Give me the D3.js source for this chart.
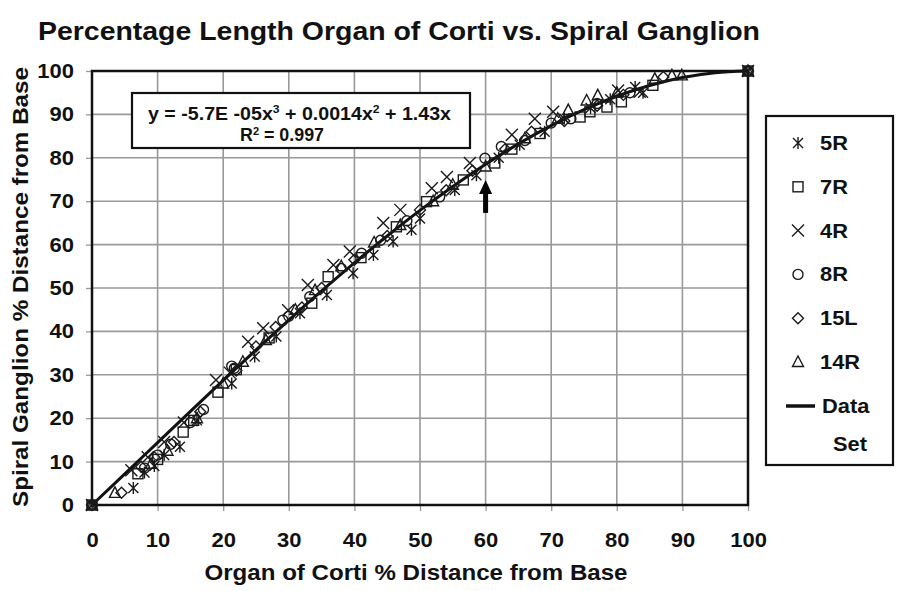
<!DOCTYPE html>
<html><head><meta charset="utf-8">
<script src="https://cdn.jsdelivr.net/npm/d3@7"></script>
<style>body{margin:0;background:#fff}svg{display:block}text{font-family:Arial,"Liberation Sans",sans-serif;font-weight:bold;fill:#111}</style>
</head><body><svg id="c" width="902" height="591"></svg>
<script>
const title = "Percentage Length Organ of Corti vs. Spiral Ganglion";
const xLabel = "Organ of Corti % Distance from Base";
const yLabel = "Spiral Ganglion % Distance from Base";
const ticks = [0,10,20,30,40,50,60,70,80,90,100];
const seriesNames = ["5R","7R","4R","8R","15L","14R"];
const symbols = ["asterisk","square","cross","circle","diamond","triangle"];
const s5R = [[0,0],[6.3,3.9],[8,7.5],[9.5,9],[11,11.5],[13.4,13.4],[16,19.5],[21.3,28],[24.8,34.2],[28.1,38.8],[31.7,44.2],[35.8,48.4],[39.8,53.4],[42.9,57.6],[45.9,60.7],[48.7,63.4],[50,66],[55.3,72.6],[58.6,76],[62,80],[65.2,83],[69,86],[72,89],[76,91.5],[79,93.5],[82.8,96.3],[84,95],[100,100]];
const s7R = [[0,0],[7,7.2],[10,10.5],[13.9,16.8],[15.5,19.5],[19.2,26],[22,31.2],[27,38.5],[33.5,46.5],[36,52.6],[41,57],[46.4,64.1],[51,69.9],[56.6,74.9],[61.4,78.8],[64,82],[68.3,85.6],[74.4,89.4],[75.9,90.6],[78.5,91.7],[80.7,92.9],[85.5,96.7],[100,100]];
const s4R = [[0,0],[6,8],[8.5,11],[11,14.5],[14,19],[18.9,28.8],[21,30.5],[23.8,37.6],[26.1,40.7],[29.9,44.9],[32.9,50.7],[36.8,55.3],[39.3,58.4],[44.4,65],[47,68],[51.8,73],[54.1,75.6],[57.6,78.8],[64,85.3],[67.5,89],[70.3,90.6],[80.2,95.5],[83.5,95.2],[100,100]];
const s8R = [[0,0],[8,8.5],[10,11.5],[12,14],[15,19],[17,22],[21.7,31.5],[21.3,32],[29.1,42.6],[30,43.5],[33.2,48],[38,54.5],[41.1,58],[44,61],[48,65.5],[53,71],[59.9,79.9],[62.4,82.6],[66,84],[70,88],[73,89],[77,92.5],[82,95],[100,100]];
const s15L = [[0,0],[4.5,2.8],[7.5,8.8],[9.5,11],[12.5,14.5],[16.5,21.5],[22,31],[25,36.5],[28,41],[32,45.5],[35,50],[40,56.5],[45,62],[50,68],[54,72.5],[58,77],[63,82],[67,86],[72,88.5],[77,92],[81,94.5],[87.1,98.6],[100,100]];
const s14R = [[0,0],[3.5,2.8],[9,9.5],[11.5,12.5],[16,20],[20,28],[23,33],[26.5,38],[31,45],[34,49.5],[38,55],[43,60.5],[47,64.5],[52,70],[55,73.8],[60,78],[66,84.5],[71,89],[72.6,91],[75.4,93.2],[77.1,94.4],[80,95],[85.8,98.2],[88.4,99],[89.9,99],[100,100]];
const curveX = [0,5,10,15,20,25,30,35,40,45,50,55,60,65,70,75,80,85,90,95,100];
const curveY = [0,7.18,14.38,21.57,28.7,35.73,42.62,49.32,55.79,61.99,67.88,73.4,78.53,83.21,87.41,91.08,94.18,96.66,98.49,99.6,100];
const arrowPts = [[60,67.3],[60,74.9]];
const eqLine1 = ["y = -5.7E -05x","3"," + 0.0014x","2"," + 1.43x"];
const eqLine2 = ["R","2"," = 0.997"];
const legendLast = ["Data","Set"];

const allSeries = [s5R,s7R,s4R,s8R,s15L,s14R];
const svg = d3.select("#c");
const L=92, R=748, T=71, B=505;
const x = d3.scaleLinear().domain([0,100]).range([L,R]);
const y = d3.scaleLinear().domain([0,100]).range([B,T]);

function stretch(sel,f){sel.each(function(){const w=this.getComputedTextLength();d3.select(this).attr("textLength",w*f).attr("lengthAdjust","spacingAndGlyphs");});}
function stretchTo(sel,w){sel.attr("textLength",w).attr("lengthAdjust","spacingAndGlyphs");}

// grid
svg.append("g").selectAll("line").data(ticks.slice(1,-1)).join("line")
  .attr("x1",d=>x(d)).attr("x2",d=>x(d)).attr("y1",T).attr("y2",B)
  .attr("stroke","#999").attr("stroke-width",1.6);
svg.append("g").selectAll("line").data(ticks.slice(1,-1)).join("line")
  .attr("y1",d=>y(d)).attr("y2",d=>y(d)).attr("x1",L).attr("x2",R)
  .attr("stroke","#999").attr("stroke-width",1.6);

// axes
const xa = svg.append("g").attr("transform",`translate(0,${B})`)
  .call(d3.axisBottom(x).tickValues(ticks).tickSize(6).tickPadding(22));
const ya = svg.append("g").attr("transform",`translate(${L},0)`)
  .call(d3.axisLeft(y).tickValues(ticks).tickSize(6).tickPadding(12));
[xa,ya].forEach(a=>{a.select(".domain").remove();a.selectAll("line").attr("stroke","#999").attr("stroke-width",1.3);
  a.selectAll("text").style("font-size","20px").style("font-family","Arial").style("font-weight","bold").attr("fill","#111");
  stretch(a.selectAll("text"),1.1);});

// frame
svg.append("rect").attr("x",L).attr("y",T).attr("width",R-L).attr("height",B-T)
  .attr("fill","none").attr("stroke","#111").attr("stroke-width",2.5);

// curve
const line = d3.line().x(d=>x(d[0])).y(d=>y(d[1])).curve(d3.curveMonotoneX);
svg.append("path").datum(curveX.map((v,i)=>[v,curveY[i]])).attr("d",line)
  .attr("fill","none").attr("stroke","#111").attr("stroke-width",3);

// markers
function drawSym(g,type,cx,cy){
  let el;
  if(type==="square") el=g.append("rect").attr("x",cx-5).attr("y",cy-5).attr("width",10).attr("height",10);
  else if(type==="circle") el=g.append("circle").attr("cx",cx).attr("cy",cy).attr("r",5);
  else if(type==="diamond") el=g.append("path").attr("d",`M${cx},${cy-5.5}L${cx+5.5},${cy}L${cx},${cy+5.5}L${cx-5.5},${cy}Z`);
  else if(type==="triangle") el=g.append("path").attr("d",`M${cx},${cy-6}L${cx+5.5},${cy+4.5}L${cx-5.5},${cy+4.5}Z`);
  else if(type==="cross") el=g.append("path").attr("d",`M${cx-6},${cy-6}L${cx+6},${cy+6}M${cx-6},${cy+6}L${cx+6},${cy-6}`);
  else el=g.append("path").attr("d",`M${cx-5},${cy-5}L${cx+5},${cy+5}M${cx-5},${cy+5}L${cx+5},${cy-5}M${cx},${cy-6}L${cx},${cy+6}`);
  el.attr("fill","none").attr("stroke","#1a1a1a").attr("stroke-width",1.4);
}
allSeries.forEach((s,i)=>{
  const g=svg.append("g");
  s.forEach(p=>drawSym(g,symbols[i],x(p[0]),y(p[1])));
});

// arrow
const ax=x(arrowPts[0][0]), ay0=y(arrowPts[0][1]), ay1=y(arrowPts[1][1]);
svg.append("line").attr("x1",ax).attr("x2",ax).attr("y1",ay0).attr("y2",ay1+10).attr("stroke","#000").attr("stroke-width",5);
svg.append("path").attr("d",`M${ax},${ay1}L${ax+6.5},${ay1+14}L${ax-6.5},${ay1+14}Z`).attr("fill","#000");

// equation box
svg.append("rect").attr("x",132).attr("y",93).attr("width",338).attr("height",55).attr("fill","#fff").attr("stroke","#111").attr("stroke-width",2.2);
function supText(parts,xx,yy,size,anchor,width){
  const t=svg.append("text").attr("x",xx).attr("y",yy).attr("text-anchor",anchor).style("font-size",size+"px");
  parts.forEach((p,i)=>{
    if(i%2===1) t.append("tspan").text(p).attr("dy",-6.5).style("font-size",(size*0.62)+"px");
    else t.append("tspan").text(p).attr("dy",i===0?0:6.5);
  });
  stretchTo(t,width);
}
supText(eqLine1,148,119.5,18,"start",303);
supText(eqLine2,240,141,18,"start",84);

// legend
svg.append("rect").attr("x",766).attr("y",116).attr("width",127).attr("height",349).attr("fill","#fff").attr("stroke","#111").attr("stroke-width",2.2);
seriesNames.forEach((n,i)=>{
  const yy=143+i*43.8;
  const g=svg.append("g");
  drawSym(g,symbols[i],798,yy);
  const t=svg.append("text").attr("x",820).attr("y",yy+7).style("font-size","19.5px").text(n);
  stretch(t,1.12);
});
svg.append("line").attr("x1",786).attr("x2",815).attr("y1",406).attr("y2",406).attr("stroke","#111").attr("stroke-width",3.5);
stretch(svg.append("text").attr("x",822).attr("y",413).style("font-size","19.5px").text(legendLast[0]),1.12);
stretch(svg.append("text").attr("x",850).attr("y",451).attr("text-anchor","middle").style("font-size","19.5px").text(legendLast[1]),1.12);

// titles
stretchTo(svg.append("text").attr("x",399).attr("y",40).attr("text-anchor","middle").style("font-size","25px").text(title),722);
stretchTo(svg.append("text").attr("x",416).attr("y",580).attr("text-anchor","middle").style("font-size","21.5px").text(xLabel),423);
stretchTo(svg.append("text").attr("transform","translate(28,287) rotate(-90)").attr("text-anchor","middle").style("font-size","21.5px").text(yLabel),440);
</script></body></html>
